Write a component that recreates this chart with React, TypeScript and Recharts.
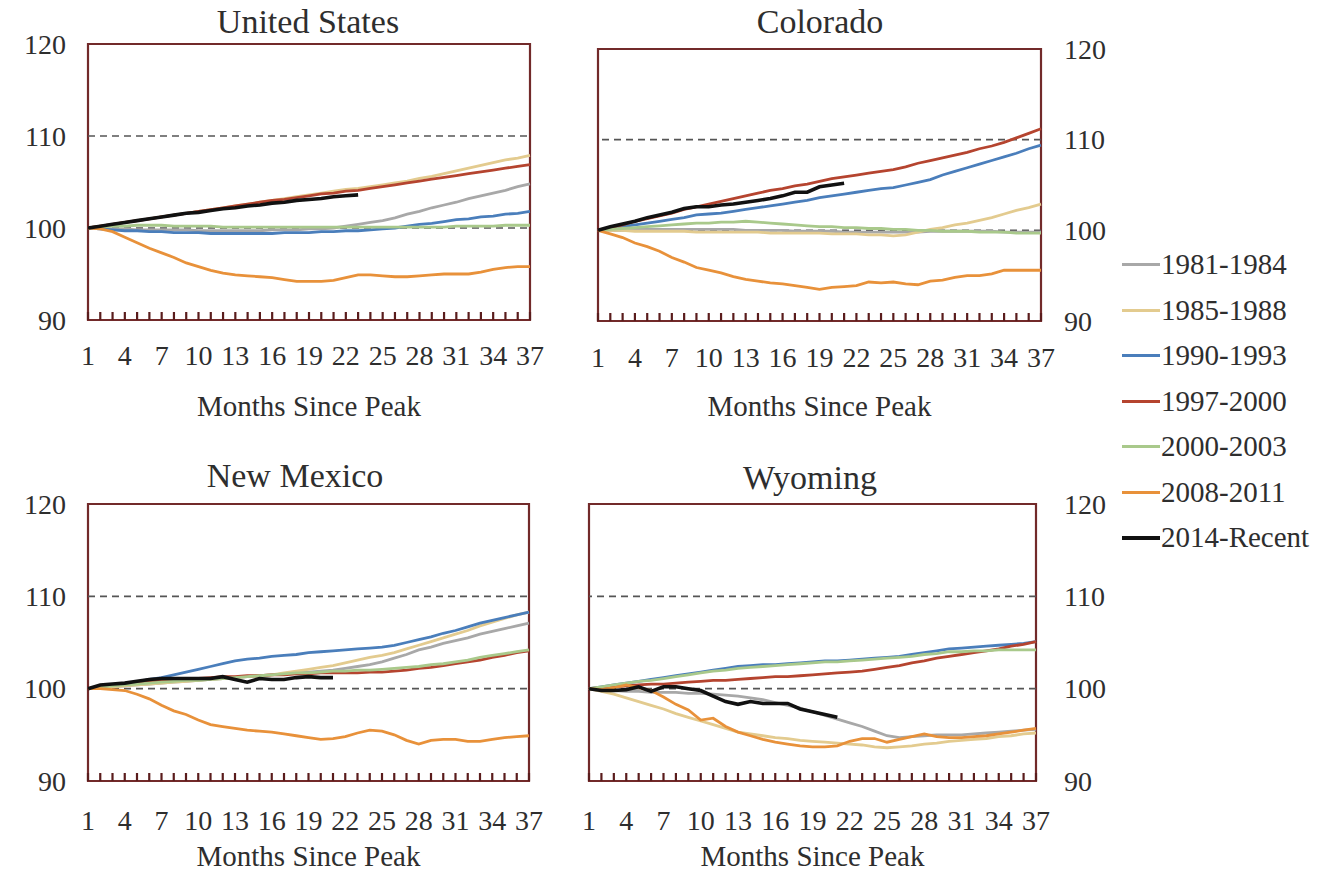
import React from 'react';
import { LineChart, Line, XAxis, YAxis, ReferenceLine, ReferenceArea } from 'recharts';

// ---------- categories / labels ----------
const MONTHS = [1, 2, 3, 4, 5, 6, 7, 8, 9, 10, 11, 12, 13, 14, 15, 16, 17, 18, 19, 20, 21, 22, 23, 24, 25, 26, 27, 28, 29, 30, 31, 32, 33, 34, 35, 36, 37];
const X_TICK_LABELS = [1, 4, 7, 10, 13, 16, 19, 22, 25, 28, 31, 34, 37];
const Y_TICKS = [90, 100, 110, 120];
const REF_LEVELS = [100, 110];
const SERIES_NAMES = ['1981-1984', '1985-1988', '1990-1993', '1997-2000', '2000-2003', '2008-2011', '2014-Recent'];
const SERIES_COLORS = ['#A8A8A8', '#E3CB8F', '#4A7EBB', '#B5442F', '#A9C98B', '#E8913A', '#111111'];
const X_TITLE = 'Months Since Peak';

// ---------- United States ----------
const US_1981 = [100.0, 99.9, 99.9, 99.9, 99.8, 99.8, 99.8, 99.8, 99.8, 99.7, 99.7, 99.7, 99.7, 99.7, 99.7, 99.8, 99.8, 99.8, 99.9, 99.9, 100.0, 100.2, 100.4, 100.6, 100.8, 101.1, 101.5, 101.8, 102.2, 102.5, 102.8, 103.2, 103.5, 103.8, 104.1, 104.5, 104.8];
const US_1985 = [100.0, 100.2, 100.4, 100.6, 100.8, 101.0, 101.2, 101.4, 101.6, 101.8, 102.0, 102.2, 102.4, 102.6, 102.8, 103.0, 103.2, 103.4, 103.6, 103.8, 104.0, 104.2, 104.3, 104.5, 104.7, 104.9, 105.1, 105.4, 105.6, 105.9, 106.2, 106.5, 106.8, 107.1, 107.4, 107.6, 107.9];
const US_1990 = [100.0, 99.9, 99.8, 99.7, 99.7, 99.6, 99.6, 99.5, 99.5, 99.5, 99.4, 99.4, 99.4, 99.4, 99.4, 99.4, 99.5, 99.5, 99.5, 99.6, 99.6, 99.7, 99.7, 99.8, 99.9, 100.0, 100.2, 100.4, 100.5, 100.7, 100.9, 101.0, 101.2, 101.3, 101.5, 101.6, 101.8];
const US_1997 = [100.0, 100.2, 100.4, 100.6, 100.8, 101.0, 101.2, 101.4, 101.6, 101.8, 102.0, 102.2, 102.4, 102.6, 102.8, 103.0, 103.1, 103.3, 103.5, 103.7, 103.8, 104.0, 104.1, 104.3, 104.5, 104.7, 104.9, 105.1, 105.3, 105.5, 105.7, 105.9, 106.1, 106.3, 106.5, 106.7, 106.9];
const US_2000 = [100.0, 100.1, 100.2, 100.2, 100.3, 100.3, 100.3, 100.2, 100.2, 100.2, 100.2, 100.1, 100.1, 100.1, 100.1, 100.1, 100.1, 100.1, 100.1, 100.1, 100.1, 100.1, 100.1, 100.1, 100.1, 100.1, 100.1, 100.1, 100.1, 100.1, 100.2, 100.2, 100.2, 100.2, 100.3, 100.3, 100.3];
const US_2008 = [100.0, 99.9, 99.6, 99.0, 98.4, 97.8, 97.3, 96.8, 96.2, 95.8, 95.4, 95.1, 94.9, 94.8, 94.7, 94.6, 94.4, 94.2, 94.2, 94.2, 94.3, 94.6, 94.9, 94.9, 94.8, 94.7, 94.7, 94.8, 94.9, 95.0, 95.0, 95.0, 95.2, 95.5, 95.7, 95.8, 95.8];
const US_2014 = [100.0, 100.2, 100.4, 100.6, 100.8, 101.0, 101.2, 101.4, 101.6, 101.7, 101.9, 102.1, 102.2, 102.4, 102.5, 102.7, 102.8, 103.0, 103.1, 103.2, 103.4, 103.5, 103.6];

// ---------- Colorado ----------
const CO_1981 = [100.0, 100.0, 100.0, 100.1, 100.1, 100.1, 100.1, 100.1, 100.1, 100.1, 100.1, 100.1, 100.0, 100.0, 100.0, 100.0, 99.9, 99.9, 99.9, 99.9, 99.8, 99.8, 99.8, 99.8, 99.8, 99.8, 99.8, 99.9, 99.9, 99.9, 99.9, 99.9, 99.9, 99.8, 99.8, 99.8, 99.8];
const CO_1985 = [100.0, 100.0, 100.0, 99.9, 99.9, 99.9, 99.9, 99.9, 99.8, 99.8, 99.8, 99.8, 99.8, 99.8, 99.7, 99.7, 99.7, 99.7, 99.7, 99.6, 99.6, 99.6, 99.5, 99.5, 99.4, 99.5, 99.8, 100.1, 100.3, 100.6, 100.8, 101.1, 101.4, 101.8, 102.2, 102.5, 102.9];
const CO_1990 = [100.0, 100.2, 100.4, 100.6, 100.8, 101.0, 101.2, 101.4, 101.7, 101.8, 101.9, 102.1, 102.3, 102.5, 102.7, 102.9, 103.1, 103.3, 103.6, 103.8, 104.0, 104.2, 104.4, 104.6, 104.7, 105.0, 105.3, 105.6, 106.1, 106.5, 106.9, 107.3, 107.7, 108.1, 108.5, 109.0, 109.4];
const CO_1997 = [100.0, 100.3, 100.6, 101.0, 101.3, 101.6, 101.9, 102.3, 102.6, 102.9, 103.2, 103.5, 103.8, 104.1, 104.4, 104.6, 104.9, 105.1, 105.4, 105.7, 105.9, 106.1, 106.3, 106.5, 106.7, 107.0, 107.4, 107.7, 108.0, 108.3, 108.6, 109.0, 109.3, 109.7, 110.2, 110.7, 111.2];
const CO_2000 = [100.0, 100.1, 100.2, 100.3, 100.4, 100.5, 100.6, 100.7, 100.8, 100.8, 100.9, 100.9, 101.0, 100.9, 100.8, 100.7, 100.6, 100.5, 100.4, 100.4, 100.3, 100.3, 100.2, 100.2, 100.1, 100.1, 100.0, 100.0, 99.9, 99.9, 99.9, 99.8, 99.8, 99.8, 99.7, 99.7, 99.7];
const CO_2008 = [100.0, 99.6, 99.2, 98.6, 98.2, 97.7, 97.0, 96.5, 95.9, 95.6, 95.3, 94.9, 94.6, 94.4, 94.2, 94.1, 93.9, 93.7, 93.5, 93.7, 93.8, 93.9, 94.3, 94.2, 94.3, 94.1, 94.0, 94.4, 94.5, 94.8, 95.0, 95.0, 95.2, 95.6, 95.6, 95.6, 95.6];
const CO_2014 = [100.0, 100.4, 100.7, 101.0, 101.4, 101.7, 102.0, 102.4, 102.6, 102.6, 102.8, 102.9, 103.1, 103.3, 103.5, 103.8, 104.2, 104.2, 104.8, 105.0, 105.2];

// ---------- New Mexico ----------
const NM_1981 = [100.0, 100.1, 100.2, 100.3, 100.4, 100.5, 100.6, 100.7, 100.8, 100.9, 101.0, 101.1, 101.2, 101.3, 101.4, 101.5, 101.6, 101.7, 101.8, 101.9, 102.0, 102.2, 102.4, 102.6, 102.9, 103.3, 103.7, 104.2, 104.5, 104.9, 105.2, 105.5, 105.9, 106.2, 106.5, 106.8, 107.1];
const NM_1985 = [100.0, 100.1, 100.2, 100.3, 100.4, 100.5, 100.6, 100.7, 100.8, 100.9, 101.0, 101.1, 101.2, 101.3, 101.4, 101.5, 101.7, 101.9, 102.1, 102.3, 102.5, 102.8, 103.1, 103.4, 103.6, 103.9, 104.3, 104.7, 105.1, 105.5, 105.9, 106.3, 106.8, 107.2, 107.6, 108.0, 108.3];
const NM_1990 = [100.0, 100.2, 100.4, 100.5, 100.7, 101.0, 101.2, 101.5, 101.8, 102.1, 102.4, 102.7, 103.0, 103.2, 103.3, 103.5, 103.6, 103.7, 103.9, 104.0, 104.1, 104.2, 104.3, 104.4, 104.5, 104.7, 105.0, 105.3, 105.6, 106.0, 106.3, 106.7, 107.1, 107.4, 107.7, 108.0, 108.3];
const NM_1997 = [100.0, 100.2, 100.4, 100.5, 100.7, 100.8, 100.9, 101.0, 101.1, 101.1, 101.2, 101.3, 101.3, 101.4, 101.4, 101.5, 101.5, 101.6, 101.6, 101.7, 101.7, 101.7, 101.7, 101.8, 101.8, 101.9, 102.0, 102.2, 102.3, 102.5, 102.7, 102.9, 103.1, 103.4, 103.6, 103.9, 104.1];
const NM_2000 = [100.0, 100.2, 100.3, 100.4, 100.5, 100.6, 100.7, 100.8, 100.9, 100.9, 101.0, 101.1, 101.2, 101.3, 101.4, 101.5, 101.6, 101.7, 101.7, 101.8, 101.9, 101.9, 102.0, 102.0, 102.1, 102.2, 102.3, 102.4, 102.6, 102.7, 102.9, 103.1, 103.4, 103.6, 103.8, 104.0, 104.2];
const NM_2008 = [100.0, 100.0, 99.9, 99.8, 99.4, 98.9, 98.2, 97.6, 97.2, 96.6, 96.1, 95.9, 95.7, 95.5, 95.4, 95.3, 95.1, 94.9, 94.7, 94.5, 94.6, 94.8, 95.2, 95.5, 95.4, 95.0, 94.4, 94.0, 94.4, 94.5, 94.5, 94.3, 94.3, 94.5, 94.7, 94.8, 94.9];
const NM_2014 = [100.0, 100.4, 100.5, 100.6, 100.8, 101.0, 101.1, 101.1, 101.1, 101.1, 101.1, 101.3, 101.0, 100.7, 101.1, 101.0, 101.0, 101.2, 101.3, 101.2, 101.2];

// ---------- Wyoming ----------
const WY_1981 = [100.0, 99.8, 99.8, 99.7, 99.7, 99.6, 99.6, 99.6, 99.5, 99.5, 99.4, 99.3, 99.2, 99.0, 98.8, 98.5, 98.2, 97.9, 97.5, 97.1, 96.7, 96.3, 95.9, 95.4, 94.9, 94.7, 94.8, 94.9, 95.0, 95.0, 95.0, 95.1, 95.2, 95.3, 95.4, 95.5, 95.6];
const WY_1985 = [100.0, 99.7, 99.4, 99.0, 98.6, 98.2, 97.8, 97.3, 96.9, 96.5, 96.1, 95.7, 95.3, 95.1, 94.9, 94.7, 94.6, 94.4, 94.3, 94.2, 94.1, 94.0, 93.9, 93.7, 93.6, 93.7, 93.8, 94.0, 94.1, 94.3, 94.4, 94.5, 94.6, 94.8, 94.9, 95.1, 95.2];
const WY_1990 = [100.0, 100.2, 100.4, 100.6, 100.8, 101.0, 101.2, 101.4, 101.6, 101.8, 102.0, 102.2, 102.4, 102.5, 102.6, 102.6, 102.7, 102.8, 102.9, 103.0, 103.0, 103.1, 103.2, 103.3, 103.4, 103.5, 103.7, 103.9, 104.1, 104.3, 104.4, 104.5, 104.6, 104.7, 104.8, 104.9, 105.1];
const WY_1997 = [100.0, 100.1, 100.2, 100.3, 100.4, 100.5, 100.5, 100.6, 100.7, 100.8, 100.9, 100.9, 101.0, 101.1, 101.2, 101.3, 101.3, 101.4, 101.5, 101.6, 101.7, 101.8, 101.9, 102.1, 102.3, 102.5, 102.8, 103.0, 103.3, 103.5, 103.7, 103.9, 104.1, 104.3, 104.6, 104.8, 105.1];
const WY_2000 = [100.0, 100.2, 100.4, 100.6, 100.8, 100.9, 101.1, 101.3, 101.5, 101.7, 101.9, 102.0, 102.2, 102.3, 102.4, 102.5, 102.6, 102.7, 102.8, 102.9, 102.9, 103.0, 103.1, 103.2, 103.3, 103.4, 103.5, 103.7, 103.8, 104.0, 104.0, 104.1, 104.1, 104.2, 104.2, 104.2, 104.2];
const WY_2008 = [100.0, 99.9, 100.1, 100.4, 100.1, 99.8, 99.1, 98.3, 97.7, 96.6, 96.8, 95.9, 95.3, 94.9, 94.5, 94.2, 94.0, 93.8, 93.7, 93.7, 93.8, 94.3, 94.6, 94.6, 94.2, 94.5, 94.8, 95.1, 94.8, 94.7, 94.7, 94.8, 94.9, 95.1, 95.3, 95.5, 95.7];
const WY_2014 = [100.0, 99.8, 99.8, 99.9, 100.2, 99.7, 100.2, 100.2, 100.0, 99.8, 99.2, 98.6, 98.3, 98.6, 98.4, 98.4, 98.4, 97.8, 97.5, 97.2, 96.9];

// ---------- styling ----------
const FONT = '"Liberation Serif", "Times New Roman", serif';
const TEXT_COLOR = '#2e2e2e';
const BORDER = '#722a2a';

function buildRows(series: number[][]) {
  return MONTHS.map((m, i) => {
    const row: Record<string, number | undefined | string> = { month: m };
    series.forEach((arr, k) => {
      row['s' + k] = i < arr.length ? arr[i] : undefined;
    });
    return row;
  });
}

type PanelProps = {
  title: string;
  series: number[][];
  left: number;
  top: number;
  width: number;
  height: number;
  plot: { l: number; r: number; t: number; b: number };
  side: 'left' | 'right';
  yMargin: number;
  xLabelOffset: number;
  xAxisHeight: number;
  xTitleOffset: number;
  titleX: number;
  titleY: number;
};

const Panel = (p: PanelProps) => {
  const rows = buildRows(p.series);
  const yW = 70;
  const margin =
    p.side === 'left'
      ? { top: p.plot.t, left: p.plot.l - yW, right: p.width - p.plot.r, bottom: p.height - p.plot.b - p.xAxisHeight }
      : { top: p.plot.t, left: p.plot.l, right: p.width - p.plot.r - yW, bottom: p.height - p.plot.b - p.xAxisHeight };

  const xTick = (props: any) => {
    const v = Number(props.payload?.value);
    if (!X_TICK_LABELS.includes(v)) return <g />;
    return (
      <text
        x={props.x}
        y={p.plot.b + p.xLabelOffset}
        textAnchor="middle"
        dominantBaseline="central"
        fontFamily={FONT}
        fontSize={28}
        fill={TEXT_COLOR}
      >
        {v}
      </text>
    );
  };

  const yTick = (props: any) => (
    <text
      x={props.x}
      y={props.y}
      textAnchor={p.side === 'left' ? 'end' : 'start'}
      dominantBaseline="central"
      fontFamily={FONT}
      fontSize={28}
      fill={TEXT_COLOR}
    >
      {props.payload?.value}
    </text>
  );

  return (
    <>
      <div
        style={{
          position: 'absolute',
          left: p.titleX,
          top: p.titleY,
          transform: 'translate(-50%, -50%)',
          fontFamily: FONT,
          fontSize: 34,
          color: TEXT_COLOR,
          whiteSpace: 'nowrap',
          lineHeight: 1,
        }}
      >
        {p.title}
      </div>
      <div style={{ position: 'absolute', left: p.left, top: p.top, width: p.width, height: p.height }}>
        <LineChart width={p.width} height={p.height} data={rows} margin={margin}>
          <XAxis
            dataKey="month"
            type="category"
            interval={0}
            tick={xTick}
            tickSize={-8}
            tickMargin={0}
            tickLine={{ stroke: '#5a1c1c', strokeWidth: 2.2 }}
            axisLine={false}
            height={p.xAxisHeight}
            label={{
              value: X_TITLE,
              position: 'insideBottom',
              offset: p.xTitleOffset,
              style: { fontFamily: FONT, fontSize: 29, fill: TEXT_COLOR },
            }}
          />
          <YAxis
            orientation={p.side}
            width={yW}
            domain={[90, 120]}
            ticks={Y_TICKS}
            type="number"
            allowDataOverflow
            tickLine={false}
            axisLine={false}
            tickSize={0}
            tickMargin={p.yMargin}
            tick={yTick}
          />
          {REF_LEVELS.map((lv) => (
            <ReferenceLine key={lv} y={lv} stroke="#555555" strokeWidth={1.7} strokeDasharray="7 5" />
          ))}
          <ReferenceArea x1={1} x2={37} y1={90} y2={120} fill="none" fillOpacity={0} stroke={BORDER} strokeWidth={2.2} />
          {SERIES_NAMES.map((name, k) => (
            <Line
              key={name}
              dataKey={'s' + k}
              name={name}
              stroke={SERIES_COLORS[k]}
              strokeWidth={k === 6 ? 3.6 : 2.8}
              dot={false}
              activeDot={false}
              connectNulls={false}
              isAnimationActive={false}
            />
          ))}
        </LineChart>
      </div>
    </>
  );
};

const Legend = () => (
  <div style={{ position: 'absolute', left: 1122, top: 242 }}>
    {SERIES_NAMES.map((name, k) => (
      <div key={name} style={{ display: 'flex', alignItems: 'center', height: 45.5 }}>
        <div style={{ width: 38, height: k === 6 ? 4 : 3, background: SERIES_COLORS[k], marginRight: 1 }} />
        <span style={{ fontFamily: FONT, fontSize: 29, color: TEXT_COLOR, lineHeight: 1 }}>{name}</span>
      </div>
    ))}
  </div>
);

export default function App() {
  return (
    <div style={{ position: 'absolute', left: 0, top: 0, width: 1330, height: 877, background: '#ffffff', overflow: 'hidden' }}>
      <Panel
        title="United States"
        series={[US_1981, US_1985, US_1990, US_1997, US_2000, US_2008, US_2014]}
        left={0}
        top={0}
        width={560}
        height={430}
        plot={{ l: 88, r: 530, t: 44, b: 320 }}
        side="left"
        yMargin={22}
        xLabelOffset={35}
        xAxisHeight={100}
        xTitleOffset={4}
        titleX={308}
        titleY={22}
      />
      <Panel
        title="Colorado"
        series={[CO_1981, CO_1985, CO_1990, CO_1997, CO_2000, CO_2008, CO_2014]}
        left={560}
        top={0}
        width={560}
        height={430}
        plot={{ l: 38, r: 481, t: 49, b: 321 }}
        side="right"
        yMargin={23}
        xLabelOffset={36}
        xAxisHeight={100}
        xTitleOffset={5}
        titleX={820}
        titleY={22}
      />
      <Panel
        title="New Mexico"
        series={[NM_1981, NM_1985, NM_1990, NM_1997, NM_2000, NM_2008, NM_2014]}
        left={0}
        top={440}
        width={560}
        height={437}
        plot={{ l: 88, r: 529, t: 64, b: 341 }}
        side="left"
        yMargin={22}
        xLabelOffset={39}
        xAxisHeight={90}
        xTitleOffset={5}
        titleX={295}
        titleY={476}
      />
      <Panel
        title="Wyoming"
        series={[WY_1981, WY_1985, WY_1990, WY_1997, WY_2000, WY_2008, WY_2014]}
        left={560}
        top={440}
        width={560}
        height={437}
        plot={{ l: 29, r: 476, t: 64, b: 341 }}
        side="right"
        yMargin={28}
        xLabelOffset={39}
        xAxisHeight={90}
        xTitleOffset={5}
        titleX={810}
        titleY={478}
      />
      <Legend />
    </div>
  );
}
